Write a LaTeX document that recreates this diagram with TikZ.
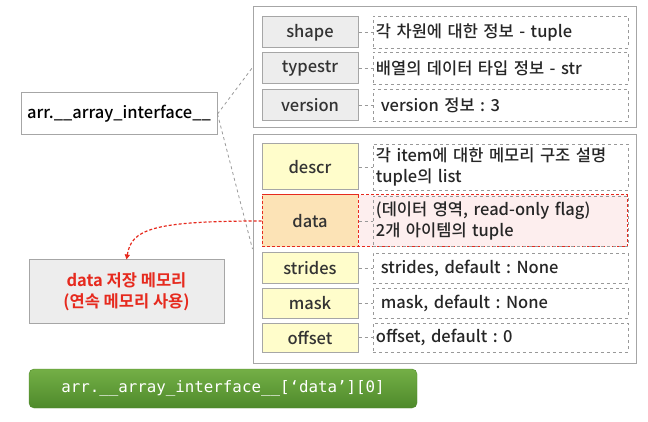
\documentclass[tikz,border=0pt]{standalone}
\usepackage{fontspec}
\setmainfont{Noto Sans CJK KR Medium}[BoldFont={Noto Sans CJK KR Bold}]
\newfontfamily\codefont{DejaVu Sans Mono}
\usetikzlibrary{positioning,arrows.meta}
\frenchspacing

\definecolor{framegray}{HTML}{A6A6A6}
\definecolor{keygray}{HTML}{EDEDED}
\definecolor{keyyellow}{HTML}{FFFDCB}
\definecolor{keyorange}{HTML}{FCE3B6}
\definecolor{datapink}{HTML}{FDEEEE}
\definecolor{memred}{HTML}{E62A1E}
\definecolor{barlight}{HTML}{74AF46}
\definecolor{bardark}{HTML}{4E8A2B}

\tikzset{
  frame/.style={draw=framegray, line width=1pt},
  keybox/.style={draw=framegray, fill=keygray, line width=1pt, minimum width=96pt, text=black!80},
  ykeybox/.style={keybox, fill=keyyellow},
  valbox/.style={draw=black!40, dashed, line width=0.8pt, minimum width=255pt, anchor=west,
    align=left, text width=249pt, inner xsep=3pt, text=black!85},
  link/.style={draw=black!40, dashed, line width=0.8pt},
  redlink/.style={draw=memred, densely dashed, line width=1.2pt, -{Triangle[length=5pt,width=5pt]}}
}

\begin{document}
\begin{tikzpicture}[x=1pt, y=-1pt, font=\fontsize{16.5}{21}\selectfont]
\useasboundingbox (0,0) rectangle (648,422);

% frames
\node (topframe) [frame, minimum width=383pt, minimum height=121pt] at (444.5,67.5) {};
\node (botframe) [frame, minimum width=383pt, minimum height=228pt] at (444.5,249) {};

% data row background
\node (datarow) [draw=memred, densely dashed, fill=datapink, line width=1pt,
  minimum width=365pt, minimum height=52pt] at (444.5,221) {};

% keys
\node (kshape) [keybox, minimum height=31pt] at (310,32.5) {shape};
\node (ktype) [keybox, minimum height=31pt] at (310,68.5) {typestr};
\node (kver) [keybox, minimum height=31pt] at (310,105.5) {version};
\node (kdescr) [ykeybox, minimum height=46pt] at (310,167) {descr};
\node (kdata) [ykeybox, fill=keyorange, draw=memred, densely dashed, minimum height=52pt] at (310,221) {data};
\node (kstrides) [ykeybox, minimum height=30pt] at (310,268) {strides};
\node (kmask) [ykeybox, minimum height=30pt] at (310,303) {mask};
\node (koffset) [ykeybox, minimum height=29pt] at (310,337.5) {offset};

% values
\node (vshape) [valbox, minimum height=32pt, right=14pt of kshape] {각 차원에 대한 정보 - tuple};
\node (vtype) [valbox, minimum height=32pt, right=14pt of ktype] {배열의 데이터 타입 정보 - str};
\node (vver) [valbox, minimum height=32pt, right=14pt of kver] {\hspace{0.3em}version 정보 : 3};
\node (vdescr) [valbox, minimum height=46pt, right=14pt of kdescr] {각 item에 대한 메모리 구조 설명\\tuple의 list};
\node (vdata) [valbox, minimum height=50pt, right=14pt of kdata] {(데이터 영역, read-only flag)\\2개 아이템의 tuple};
\node (vstrides) [valbox, minimum height=30pt, right=14pt of kstrides] {\hspace{0.3em}strides, default : None};
\node (vmask) [valbox, minimum height=30pt, right=14pt of kmask] {\hspace{0.3em}mask, default : None};
\node (voffset) [valbox, minimum height=29pt, right=14pt of koffset] {offset, default : 0};

\draw[link] (kshape) -- (vshape);
\draw[link] (ktype) -- (vtype);
\draw[link] (kver) -- (vver);
\draw[link] (kdescr) -- (vdescr);
\draw[link] (kdata) -- (vdata);
\draw[link] (kstrides) -- (vstrides);
\draw[link] (kmask) -- (vmask);
\draw[link] (koffset) -- (voffset);

% left side
\node (arr) [draw=framegray, line width=1pt, fill=white, minimum width=196pt, minimum height=42pt] at (119,114) {arr.\_\_array\_interface\_\_};
\draw[link] (arr.east) -- (topframe.west);
\draw[link] (arr.east) -- (botframe.west);

\node (mem) [draw=framegray, line width=1pt, fill=black!7, minimum width=195pt, minimum height=63pt,
  align=center, text=memred, font=\fontsize{16.5}{21}\selectfont\bfseries] at (126.5,291.5) {data 저장 메모리\\(연속 메모리 사용)};
\draw[redlink] (kdata.west) .. controls +(-110,0) and +(5,-30) .. (mem.north);

% code bar
\node (code) [draw=bardark, rounded corners=5pt, top color=barlight, bottom color=bardark,
  minimum width=388pt, minimum height=39pt, text=white, font=\codefont\fontsize{15.8}{18}\selectfont]
  at (223,388.5) {arr.\_\_array\_interface\_\_[‘data’][0]};
\end{tikzpicture}
\end{document}
